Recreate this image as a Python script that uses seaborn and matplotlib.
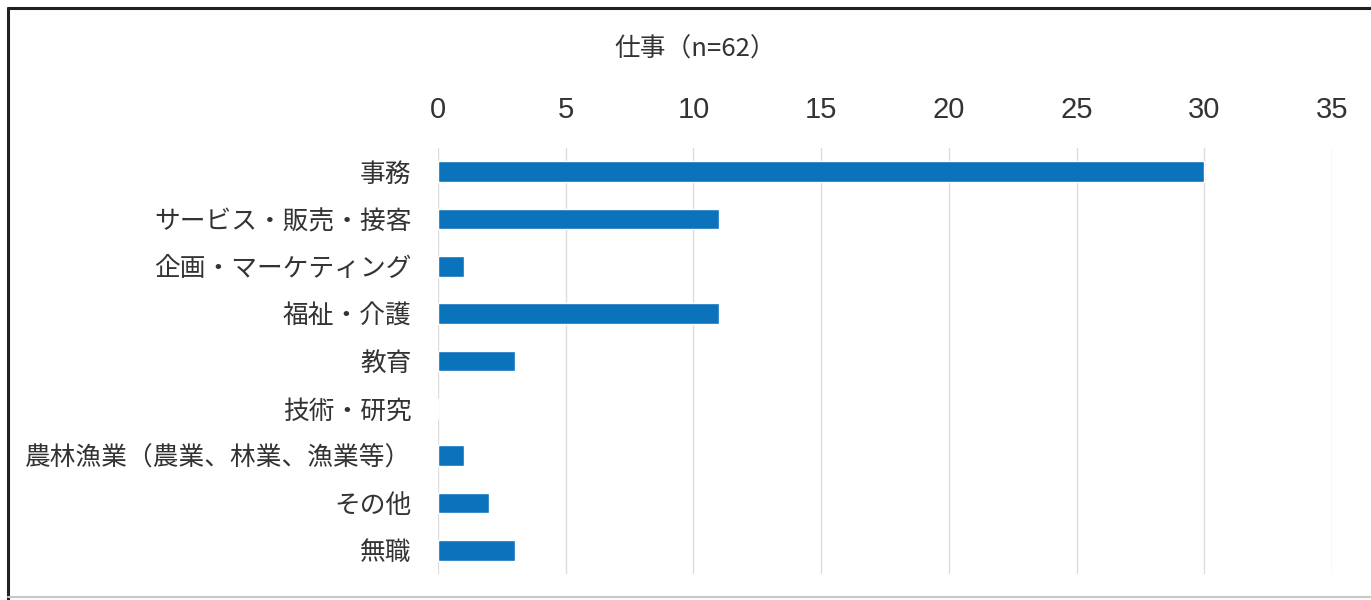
import matplotlib
matplotlib.use("Agg")
import matplotlib.pyplot as plt
from matplotlib.lines import Line2D
import pandas as pd
import seaborn as sns

# Occupation counts (n=62)
categories = [
    "事務",
    "サービス・販売・接客",
    "企画・マーケティング",
    "福祉・介護",
    "教育",
    "技術・研究",
    "農林漁業（農業、林業、漁業等）",
    "その他",
    "無職",
]
counts = [30, 11, 1, 11, 3, 0, 1, 2, 3]
x_ticks = [0, 5, 10, 15, 20, 25, 30, 35]
title = "仕事（n=62）"

df = pd.DataFrame({"category": categories, "count": counts})

sns.set_theme(style="white")
plt.rcParams["font.family"] = ["Noto Sans CJK JP", "DejaVu Sans"]

text_color = "#333333"
bar_color = "#0B72BC"

fig = plt.figure(figsize=(13.71, 6.0), dpi=100)
ax = fig.add_axes([438 / 1371, 1 - 574 / 600, (1332 - 438) / 1371, (574 - 148) / 600])

sns.barplot(data=df, x="count", y="category", order=categories,
            color=bar_color, saturation=1, width=0.43, ax=ax, orient="h")

ax.set_xlim(0, 35)
ax.set_ylim(len(categories) - 0.5, -0.5)
ax.set_xticks(x_ticks)
ax.xaxis.tick_top()
ax.set_xlabel("")
ax.set_ylabel("")
ax.grid(axis="x", color="#dcdcdc", linewidth=1.0)
ax.grid(axis="y", visible=False)
ax.set_axisbelow(True)
for s in ax.spines.values():
    s.set_visible(False)

ax.tick_params(axis="x", length=0, pad=17, labelsize=21, labelcolor=text_color)
ax.tick_params(axis="y", length=0, pad=19, labelsize=18.5, labelcolor=text_color)
for lbl in ax.get_xticklabels():
    lbl.set_family(["Liberation Sans", "DejaVu Sans"])

fig.text(695 / 1371, 1 - 50 / 600, title, ha="center", va="center",
         fontsize=18.5, color=text_color)

# Frame around the chart
fig.add_artist(Line2D([8 / 1371, 8 / 1371], [0, 1 - 8 / 600],
                      transform=fig.transFigure, color="#202020", linewidth=2.2))
fig.add_artist(Line2D([8 / 1371, 1], [1 - 8 / 600, 1 - 8 / 600],
                      transform=fig.transFigure, color="#202020", linewidth=2.2))
fig.add_artist(Line2D([8 / 1371, 1], [1 - 597 / 600, 1 - 597 / 600],
                      transform=fig.transFigure, color="#c8c8c8", linewidth=1.5))

fig.savefig("out.png", dpi=100, facecolor="white")
